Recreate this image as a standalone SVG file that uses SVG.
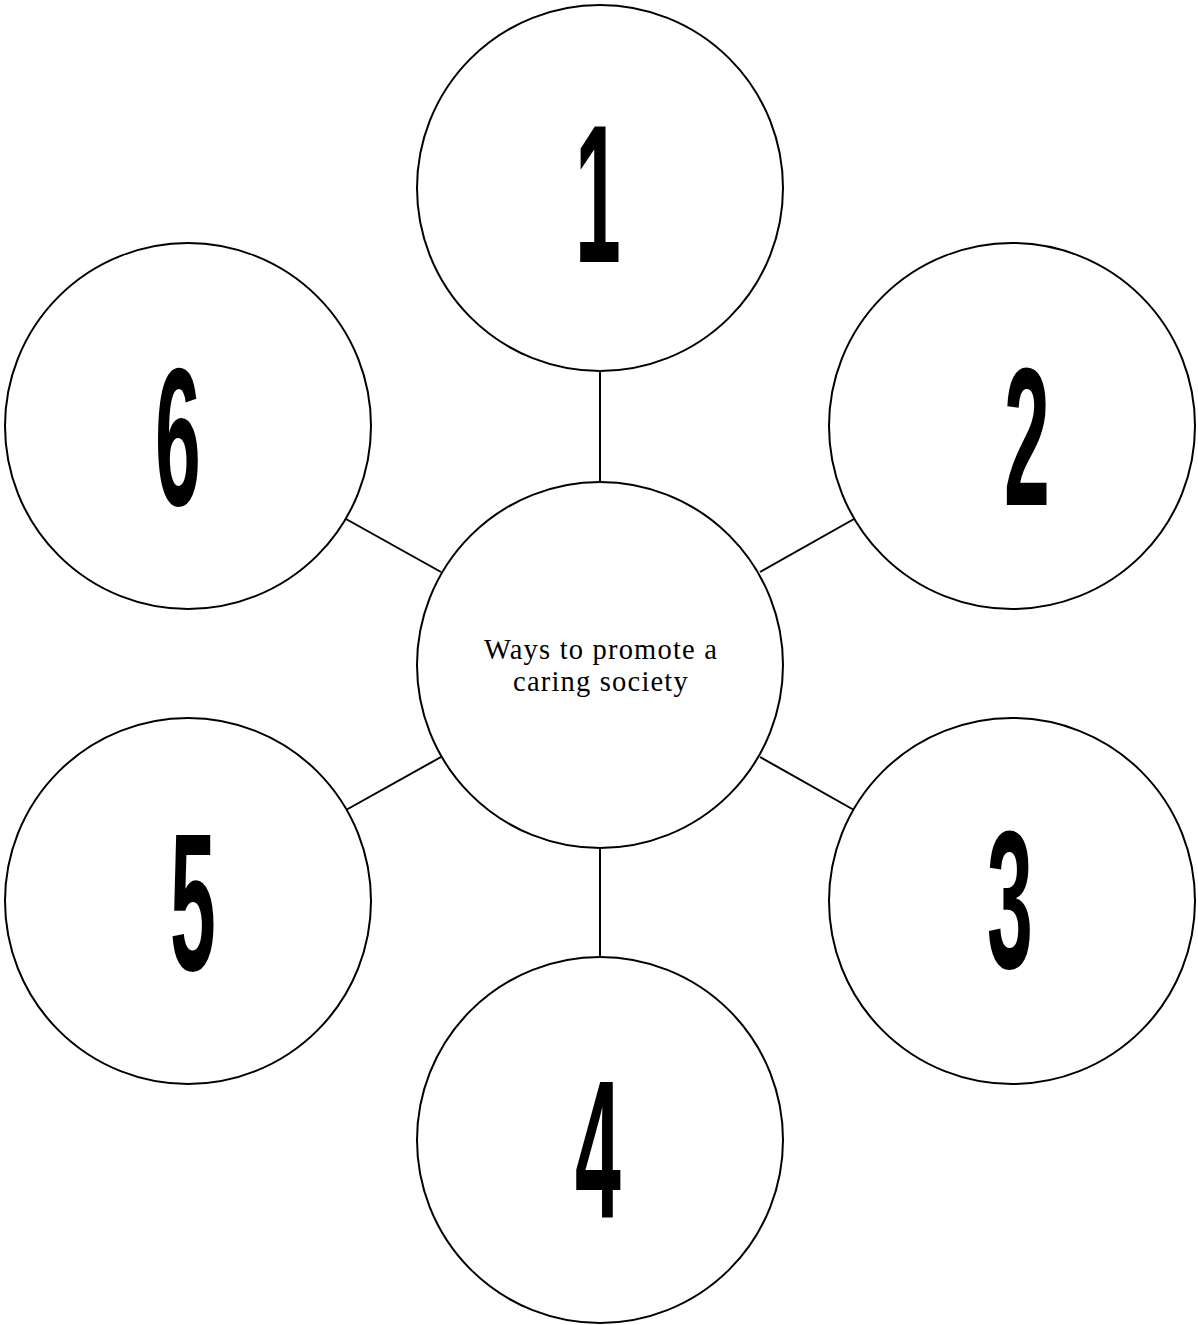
<svg xmlns="http://www.w3.org/2000/svg" width="1198" height="1325" viewBox="0 0 1198 1325">
<style>
.c{fill:#fff;stroke:#000;stroke-width:2}
.n{font-family:"Liberation Sans",Arial,sans-serif;font-weight:bold;font-size:196px;text-anchor:middle;fill:#000}
.t{font-family:"Liberation Serif","Times New Roman",serif;font-size:28.5px;letter-spacing:1.2px;text-anchor:middle;fill:#000}
.l{stroke:#000;stroke-width:2;fill:none}
</style>
<rect width="1198" height="1325" fill="#fff"/>
<g id="connectors">
<line class="l" x1="600" y1="372" x2="600" y2="482"/>
<line class="l" x1="760" y1="572" x2="854" y2="519"/>
<line class="l" x1="760" y1="757" x2="854" y2="810"/>
<line class="l" x1="600" y1="848" x2="600" y2="958"/>
<line class="l" x1="441" y1="757" x2="346" y2="810"/>
<line class="l" x1="441" y1="572" x2="346" y2="519"/>
</g>
<g id="center">
<circle class="c" cx="600" cy="665" r="183"/>
<text class="t" x="601" y="659">Ways to promote a</text>
<text class="t" x="601" y="691">caring society</text>
</g>
<g id="node1">
<circle class="c" cx="600" cy="188" r="183"/>
<text class="n" transform="translate(598,262) scale(0.42,1)">1</text>
</g>
<g id="node2">
<circle class="c" cx="1012" cy="426" r="183"/>
<text class="n" transform="translate(1027,505) scale(0.42,1)">2</text>
</g>
<g id="node3">
<circle class="c" cx="1012" cy="901" r="183"/>
<text class="n" transform="translate(1010,968) scale(0.42,1)">3</text>
</g>
<g id="node4">
<circle class="c" cx="600" cy="1140" r="183"/>
<text class="n" transform="translate(598,1218) scale(0.42,1)">4</text>
</g>
<g id="node5">
<circle class="c" cx="188" cy="901" r="183"/>
<text class="n" transform="translate(193,970) scale(0.42,1)">5</text>
</g>
<g id="node6">
<circle class="c" cx="188" cy="426" r="183"/>
<text class="n" transform="translate(178,505) scale(0.42,1)">6</text>
</g>
</svg>
